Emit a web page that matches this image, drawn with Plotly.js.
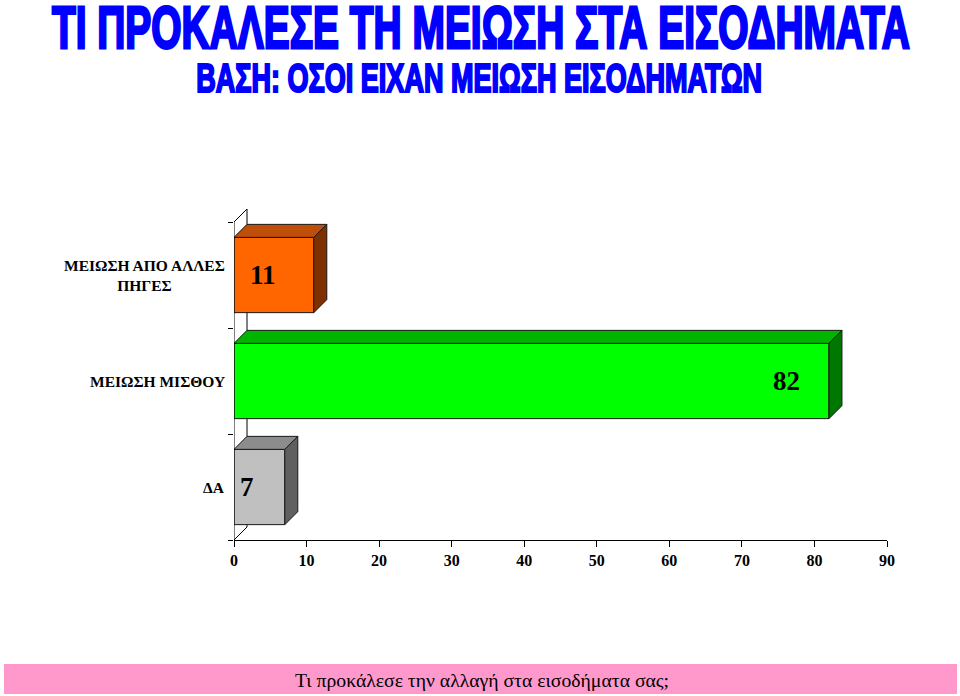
<!DOCTYPE html>
<html>
<head>
<meta charset="utf-8">
<script src="https://cdn.plot.ly/plotly-3.0.1.min.js"></script>
<style>
html,body{margin:0;padding:0;background:#fff;}
#chart{width:960px;height:696px;}
</style>
</head>
<body>
<div id="chart"></div>
<script>
// ---- data ----
const categories = ['ΔΑ', 'ΜΕΙΩΣΗ ΜΙΣΘΟΥ', 'ΜΕΙΩΣΗ ΑΠΟ ΑΛΛΕΣ<br>ΠΗΓΕΣ'];
const values = [7, 82, 11];
const xTickVals = [0, 10, 20, 30, 40, 50, 60, 70, 80, 90];
const titleText = 'ΤΙ ΠΡΟΚΑΛΕΣΕ ΤΗ ΜΕΙΩΣΗ ΣΤΑ ΕΙΣΟΔΗΜΑΤΑ';
const subtitleText = 'ΒΑΣΗ: ΟΣΟΙ ΕΙΧΑΝ ΜΕΙΩΣΗ ΕΙΣΟΔΗΜΑΤΩΝ';
const footerText = 'Τι προκάλεσε την αλλαγή στα εισοδήματα σας;';

// ---- style ----
const frontColors = ['#C0C0C0', '#00FF00', '#FF6600'];
const topColors = ['#8C8C8C', '#00B400', '#BE4E08'];
const sideColors = ['#606060', '#007800', '#7E3000'];
const labelShift = [-38, -42, -51];

const W = 960, H = 696;
const L = 234, R = 73, B = 156;
const plotW = W - L - R;
const pxPerCat = 106;
const T = 209;
const plotH = H - T - B;
const yTop = -0.5 + plotH / pxPerCat;
const xMax = 90;
const pxPerX = plotW / xMax;
const depthPx = 13;
const dx = depthPx / pxPerX;
const dy = depthPx / pxPerCat;
const barW = 0.71;

const paperX = px => (px - L) / plotW;
const paperY = py => (H - B - py) / plotH;

const serif = 'Liberation Serif, Times New Roman, serif';
const heavy = 'Liberation Sans, Arial, sans-serif';

const idx = categories.map((c, i) => i);

const trace = {
  type: 'bar',
  orientation: 'h',
  y: categories,
  x: values,
  width: barW,
  marker: { color: frontColors, line: { color: '#1a1a1a', width: 1 } },
  hoverinfo: 'x+y'
};

const shapes = [];
// 3D wall lines (behind bars)
shapes.push({ type: 'line', xref: 'x', yref: 'y', layer: 'below', x0: dx, x1: dx, y0: -0.5 + dy, y1: 2.5 + dy, line: { color: '#000', width: 1 } });
shapes.push({ type: 'line', xref: 'x', yref: 'y', layer: 'below', x0: 0, x1: dx, y0: 2.5, y1: 2.5 + dy, line: { color: '#000', width: 1 } });
shapes.push({ type: 'line', xref: 'x', yref: 'y', layer: 'below', x0: 0, x1: dx, y0: -0.5, y1: -0.5 + dy, line: { color: '#000', width: 1 } });

// top & side faces
idx.forEach(i => {
  const v = values[i];
  const y0 = i - barW / 2, y1 = i + barW / 2;
  shapes.push({
    type: 'path', xref: 'x', yref: 'y', layer: 'above',
    path: `M0,${y1} L${v},${y1} L${v + dx},${y1 + dy} L${dx},${y1 + dy} Z`,
    fillcolor: topColors[i], line: { color: '#1a1a1a', width: 1 }
  });
  shapes.push({
    type: 'path', xref: 'x', yref: 'y', layer: 'above',
    path: `M${v},${y0} L${v},${y1} L${v + dx},${y1 + dy} L${v + dx},${y0 + dy} Z`,
    fillcolor: sideColors[i], line: { color: '#1a1a1a', width: 1 }
  });
});
// left axis line
shapes.push({ type: 'line', xref: 'x', yref: 'y', layer: 'above', x0: 0, x1: 0, y0: -0.5, y1: 2.5, line: { color: '#000', width: 1 } });

// footer band
shapes.push({
  type: 'rect', xref: 'paper', yref: 'paper', layer: 'above',
  x0: paperX(4), x1: paperX(957), y0: paperY(694), y1: paperY(664),
  fillcolor: '#FF99CC', line: { width: 0 }
});

const annotations = [];
// title + subtitle
annotations.push({
  xref: 'paper', yref: 'paper', x: paperX(481), y: paperY(27), xanchor: 'center', yanchor: 'middle',
  text: titleText, showarrow: false,
  font: { family: heavy, size: 34, color: '#0000FF', weight: 'bold' }
});
annotations.push({
  xref: 'paper', yref: 'paper', x: paperX(479), y: paperY(77), xanchor: 'center', yanchor: 'middle',
  text: subtitleText, showarrow: false,
  font: { family: heavy, size: 24, color: '#0000FF', weight: 'bold' }
});
// category labels
idx.forEach(i => {
  annotations.push({
    xref: 'paper', yref: 'y', x: 0, y: categories[i], xanchor: 'right', yanchor: 'middle',
    xshift: -7, align: 'center', text: categories[i], showarrow: false,
    font: { family: serif, size: 15.5, color: '#000', weight: 'bold' }
  });
});
// value labels
idx.forEach(i => {
  annotations.push({
    xref: 'x', yref: 'y', x: values[i], y: categories[i], xanchor: 'center', yanchor: 'middle',
    xshift: labelShift[i], text: String(values[i]), showarrow: false,
    font: { family: serif, size: 27, color: '#000', weight: 'bold' }
  });
});
// footer text
annotations.push({
  xref: 'paper', yref: 'paper', x: paperX(482), y: paperY(680), xanchor: 'center', yanchor: 'middle',
  text: footerText, showarrow: false,
  font: { family: serif, size: 19.7, color: '#000' }
});

const layout = {
  width: W, height: H,
  margin: { l: L, r: R, t: T, b: B, pad: 0 },
  paper_bgcolor: '#fff', plot_bgcolor: 'rgba(0,0,0,0)',
  showlegend: false,
  xaxis: {
    range: [0, xMax], tickmode: 'array', tickvals: xTickVals,
    showgrid: false, zeroline: false, showline: true, linecolor: '#000', linewidth: 1,
    ticks: 'outside', ticklen: 6, tickcolor: '#000',
    tickfont: { family: serif, size: 16, color: '#000', weight: 'bold' }
  },
  yaxis: {
    type: 'category', categoryorder: 'array', categoryarray: categories,
    range: [-0.5, yTop], tickson: 'boundaries',
    showgrid: false, zeroline: false, showline: false,
    ticks: 'outside', ticklen: 5, tickcolor: '#000',
    showticklabels: false
  },
  shapes: shapes,
  annotations: annotations
};

Plotly.newPlot('chart', [trace], layout, { displayModeBar: false, staticPlot: true }).then(() => {
  // condensed, heavy headline look: fit width, stretch vertically
  const fit = {
    [titleText]: { w: 858, sy: 43 / (0.729 * 34), sw: 1.6 },
    [subtitleText]: { w: 566, sy: 30 / (0.729 * 24), sw: 1.3 }
  };
  document.querySelectorAll('text.annotation-text').forEach(t => {
    const f = fit[t.textContent];
    if (f) {
      t.setAttribute('textLength', f.w);
      t.setAttribute('lengthAdjust', 'spacingAndGlyphs');
      t.style.transformBox = 'fill-box';
      t.style.transformOrigin = 'center';
      t.style.transform = 'scaleY(' + f.sy.toFixed(3) + ')';
      t.style.stroke = '#0000FF';
      t.style.strokeWidth = f.sw + 'px';
      t.style.strokeLinejoin = 'miter';
    }
  });
});
</script>
</body>
</html>
